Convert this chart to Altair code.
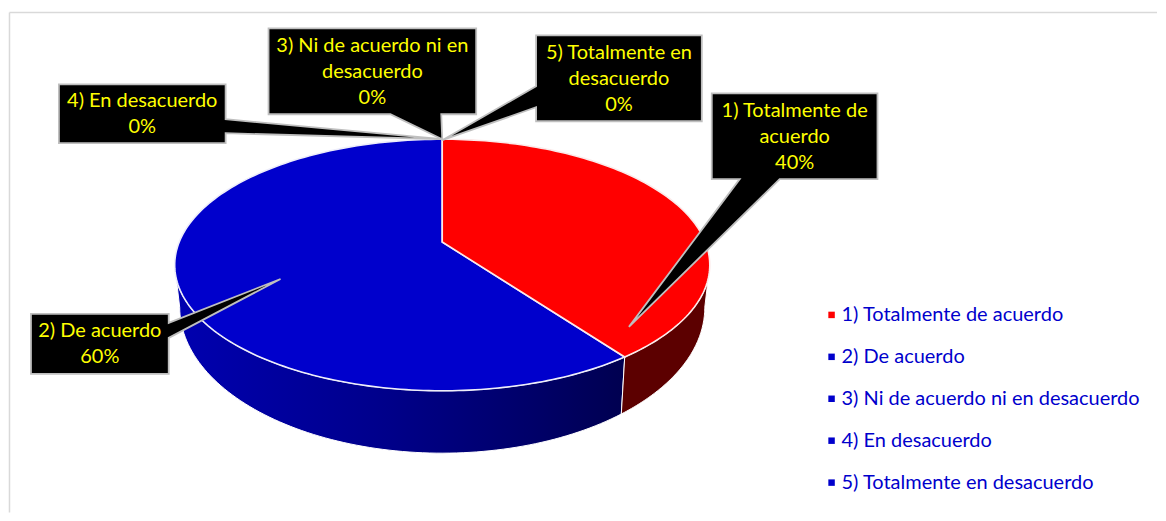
import math
import altair as alt
import pandas as pd

categories = ["1) Totalmente de acuerdo", "2) De acuerdo", "3) Ni de acuerdo ni en desacuerdo",
              "4) En desacuerdo", "5) Totalmente en desacuerdo"]
shares = [40, 60, 0, 0, 0]
colors = ["#FF0000", "#0000CC", "#0000CC", "#0000CC", "#0000CC"]
callout_lines = [
    ["1) Totalmente de", "acuerdo"],
    ["2) De acuerdo"],
    ["3) Ni de acuerdo ni en", "desacuerdo"],
    ["4) En desacuerdo"],
    ["5) Totalmente en", "desacuerdo"],
]

# ---- layout (page pixels of the drawing, mapped through linear scales)
X0, X1, Y0, Y1 = 8, 1158, 8, 513
CX, RIM_CY, RX, RY = 442, 265, 268, 126      # top face ellipse
BCX, BCY, BRX, BRY = 442, 307.5, 263, 146    # lower edge of wall
APEX = (442, 242)
PERSPECTIVE = -7                             # degrees, foreshortening of the slice border

boundary = shares[0] / sum(shares) * 360 + PERSPECTIVE


def rim(t):
    r = math.radians(t)
    return CX + RX * math.sin(r), RIM_CY - RY * math.cos(r)


def low(t):
    r = math.radians(t)
    return BCX + BRX * math.sin(r), BCY - BRY * math.cos(r)


def sweep(a, b, n=90):
    return [a + (b - a) * i / n for i in range(n + 1)]


xs = alt.Scale(domain=[X0, X1], range=[0, X1 - X0], nice=False, zero=False)
ys = alt.Scale(domain=[Y0, Y1], range=[0, Y1 - Y0], nice=False, zero=False)


def poly(points, **mark):
    df = pd.DataFrame({"x": [p[0] for p in points], "y": [p[1] for p in points],
                       "i": range(len(points))})
    return alt.Chart(df).mark_line(filled=True, interpolate="linear-closed", **mark).encode(
        x=alt.X("x:Q", scale=xs, axis=None),
        y=alt.Y("y:Q", scale=ys, axis=None),
        order="i:Q",
    )


def hgrad(stops):
    return alt.Gradient(gradient="linear", x1=0, x2=1, y1=0, y2=0,
                        stops=[alt.GradientStop(offset=o, color=c) for o, c in stops])


layers = []

# frame
frame = pd.DataFrame({"x": [X0 + 0.5, X0 + 0.5], "x2": [X0 + 0.5, X1], "y": [12, 12], "y2": [Y1, 12]})
layers.append(alt.Chart(frame).mark_rule(color="#D9D9D9", strokeWidth=1.5).encode(
    x=alt.X("x:Q", scale=xs, axis=None), x2="x2:Q",
    y=alt.Y("y:Q", scale=ys, axis=None), y2="y2:Q"))

# walls
ang_blue = sweep(boundary, 270)
ang_red = sweep(90, boundary)
layers.append(poly([rim(t) for t in ang_blue] + [low(t) for t in reversed(ang_blue)],
                   fill=hgrad([(0, "#0000B0"), (0.45, "#00008C"), (0.8, "#000068"), (1, "#000050")]),
                   stroke="#FFFFFF", strokeWidth=1))
layers.append(poly([rim(t) for t in ang_red] + [low(t) for t in reversed(ang_red)],
                   fill="#5C0000", stroke="#FFFFFF", strokeWidth=1))

# top face
layers.append(poly([APEX] + [rim(t) for t in sweep(boundary, 360, 180)],
                   fill="#0000CC", stroke="#EEEEFA", strokeWidth=1.6))
layers.append(poly([APEX] + [rim(t) for t in sweep(0, boundary, 120)],
                   fill="#FF0000", stroke="#FBEAEA", strokeWidth=1.6))

# callouts: box outline with wedge running to the tip
boxes = [
    dict(box=(712, 93, 878, 179), wedge=[(780, 179), (629, 327), (740, 179)], side="bottom"),
    dict(box=(30, 314, 168, 374), wedge=[(168, 323), (280, 279), (168, 338)], side="right"),
    dict(box=(268, 28, 476, 114), wedge=[(441, 114), (442, 139), (390, 114)], side="bottom"),
    dict(box=(58, 84, 225, 143), wedge=[(225, 119), (442, 139), (225, 133)], side="right"),
    dict(box=(536, 35, 702, 121), wedge=[(536, 107), (442, 140), (536, 86)], side="left"),
]
line_h = 26
text_rows = []
for b, lines, cat, v in zip(boxes, callout_lines, categories, shares):
    x0, y0, x1, y1 = b["box"]
    if b["side"] == "bottom":
        pts = [(x0, y0), (x1, y0), (x1, y1)] + b["wedge"] + [(x0, y1)]
    elif b["side"] == "right":
        pts = [(x0, y0), (x1, y0)] + b["wedge"] + [(x1, y1), (x0, y1)]
    else:
        pts = [(x0, y0), (x1, y0), (x1, y1), (x0, y1)] + b["wedge"]
    layers.append(poly(pts, fill="#000000", stroke="#BFBFBF", strokeWidth=1.8))
    rows = lines + [f"{v}%"]
    top = (y0 + y1) / 2 - line_h * (len(rows) - 1) / 2 + 0.5
    for k, t in enumerate(rows):
        text_rows.append({"x": (x0 + x1) / 2, "y": top + k * line_h, "t": t})

layers.append(alt.Chart(pd.DataFrame(text_rows)).mark_text(
    font="Lato", fontSize=20, color="#FFFF00", baseline="middle", align="center").encode(
    x=alt.X("x:Q", scale=xs, axis=None), y=alt.Y("y:Q", scale=ys, axis=None), text="t:N"))

# legend, from the five categories
legend_df = pd.DataFrame({"Categoria": categories, "share": shares, "x": [CX] * 5, "y": [RIM_CY] * 5})
layers.append(alt.Chart(legend_df).mark_square(size=0, opacity=1).encode(
    x=alt.X("x:Q", scale=xs, axis=None), y=alt.Y("y:Q", scale=ys, axis=None),
    color=alt.Color("Categoria:N",
                    scale=alt.Scale(domain=categories, range=colors),
                    legend=alt.Legend(title=None, orient="none", legendX=814, legendY=297,
                                      symbolType="square", symbolSize=42, symbolStrokeWidth=0,
                                      labelFont="Lato", labelFontSize=20, labelColor="#0000CC",
                                      labelOffset=0, rowPadding=22, labelLimit=400)),
))

chart = alt.layer(*layers).properties(width=X1 - X0, height=Y1 - Y0).configure_view(
    stroke=None).properties(padding=0, background="#FFFFFF")

chart.save("out.html", embed_options={"renderer": "svg", "actions": False})
